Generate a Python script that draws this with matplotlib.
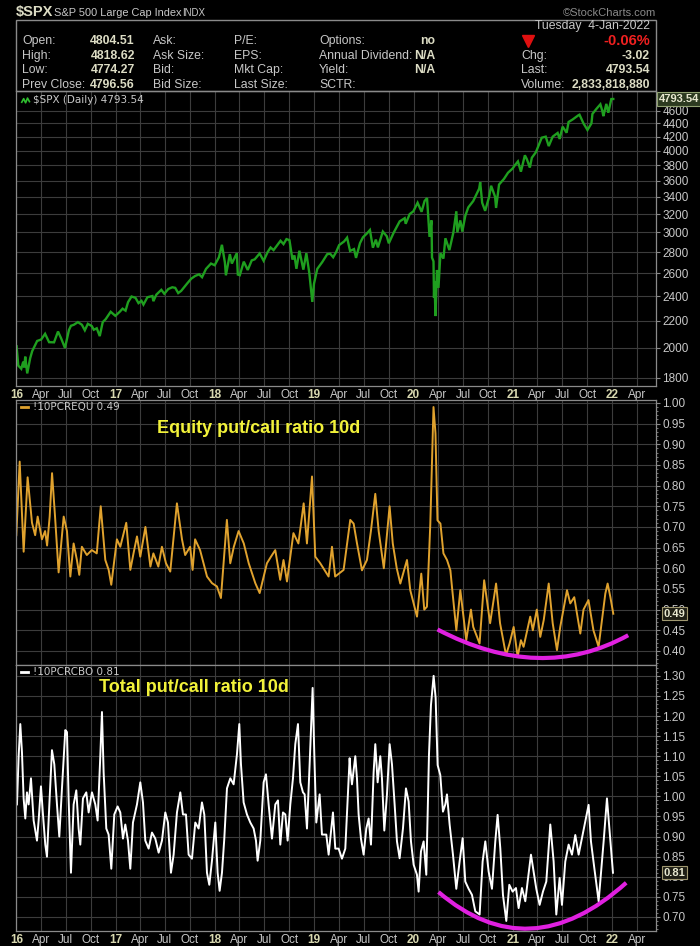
import matplotlib
matplotlib.use('Agg')
import matplotlib.pyplot as plt
import numpy as np
from datetime import date
from matplotlib.path import Path
from matplotlib.patches import PathPatch, Rectangle
from matplotlib.ticker import FixedLocator, NullLocator, FixedFormatter

plt.rcParams['font.family'] = ['Liberation Sans', 'DejaVu Sans']

# ---------------- data (decimal year, value) ----------------
spx_t = [2016.003, 2016.02, 2016.05, 2016.07, 2016.08, 2016.09, 2016.11, 2016.14, 2016.16, 2016.19,
         2016.21, 2016.25, 2016.29, 2016.33, 2016.38, 2016.42, 2016.45, 2016.49, 2016.53, 2016.55,
         2016.58, 2016.62, 2016.66, 2016.69, 2016.72, 2016.76, 2016.78, 2016.81, 2016.84, 2016.87,
         2016.90, 2016.95, 2016.997, 2017.04, 2017.07, 2017.10, 2017.125, 2017.16, 2017.20, 2017.23,
         2017.26, 2017.28, 2017.32, 2017.37, 2017.38, 2017.41, 2017.46, 2017.49, 2017.53, 2017.57,
         2017.60, 2017.63, 2017.66, 2017.72, 2017.76, 2017.80, 2017.84, 2017.87, 2017.91, 2017.96,
         2017.997, 2018.04, 2018.07, 2018.10, 2018.11, 2018.15, 2018.17, 2018.22, 2018.23, 2018.25,
         2018.29, 2018.33, 2018.37, 2018.40, 2018.45, 2018.49, 2018.53, 2018.56, 2018.59, 2018.66,
         2018.69, 2018.72, 2018.75, 2018.78, 2018.80, 2018.82, 2018.85, 2018.89, 2018.92, 2018.95,
         2018.98, 2018.997, 2019.03, 2019.08, 2019.13, 2019.16, 2019.19, 2019.22, 2019.25, 2019.30,
         2019.33, 2019.36, 2019.40, 2019.42, 2019.46, 2019.49, 2019.53, 2019.56, 2019.59, 2019.62,
         2019.64, 2019.69, 2019.73, 2019.75, 2019.80, 2019.82, 2019.86, 2019.91, 2019.92, 2019.96,
         2019.997, 2020.04, 2020.08, 2020.11, 2020.135, 2020.16, 2020.18, 2020.185, 2020.20, 2020.205,
         2020.21, 2020.22, 2020.235, 2020.25, 2020.27, 2020.30, 2020.32, 2020.36, 2020.40, 2020.43,
         2020.44, 2020.47, 2020.49, 2020.52, 2020.55, 2020.60, 2020.66, 2020.67, 2020.69, 2020.72,
         2020.76, 2020.78, 2020.82, 2020.83, 2020.86, 2020.91, 2020.95, 2020.997, 2021.02, 2021.05,
         2021.08, 2021.12, 2021.14, 2021.17, 2021.19, 2021.23, 2021.29, 2021.33, 2021.36, 2021.40,
         2021.45, 2021.47, 2021.50, 2021.54, 2021.56, 2021.60, 2021.66, 2021.67, 2021.71, 2021.75,
         2021.79, 2021.80, 2021.84, 2021.88, 2021.90, 2021.91, 2021.94, 2021.96, 2021.99, 2022.01]
spx_v = [2012, 1880, 1859, 1906, 1868, 1940, 1829, 1930, 1978, 2020,
         2050, 2060, 2102, 2041, 2040, 2119, 2071, 2000, 2130, 2162,
         2170, 2190, 2170, 2128, 2177, 2160, 2132, 2143, 2085, 2190,
         2213, 2271, 2239, 2270, 2296, 2280, 2349, 2396, 2385, 2341,
         2360, 2329, 2390, 2400, 2357, 2412, 2453, 2419, 2460, 2475,
         2470, 2425, 2444, 2508, 2550, 2575, 2590, 2564, 2640, 2690,
         2674, 2750, 2873, 2700, 2581, 2780, 2690, 2790, 2588, 2582,
         2708, 2630, 2720, 2730, 2787, 2716, 2800, 2846, 2820, 2914,
         2880, 2931, 2920, 2728, 2768, 2641, 2814, 2633, 2790, 2600,
         2351, 2507, 2640, 2704, 2780, 2784, 2750, 2801, 2870, 2907,
         2946, 2812, 2830, 2744, 2890, 2950, 2990, 3026, 2844, 2926,
         2847, 3010, 2960, 2888, 3000, 3039, 3120, 3154, 3093, 3200,
         3231, 3330, 3226, 3350, 3386, 2954, 3130, 2747, 2711, 2386,
         2530, 2237, 2630, 2470, 2790, 2737, 2940, 2820, 3000, 3232,
         3002, 3130, 3009, 3180, 3276, 3350, 3500, 3580, 3330, 3237,
         3400, 3535, 3400, 3270, 3550, 3622, 3700, 3756, 3800, 3850,
         3714, 3934, 3880, 3768, 3900, 3975, 4185, 4200, 4063, 4200,
         4255, 4166, 4350, 4258, 4422, 4460, 4529, 4537, 4400, 4300,
         4400, 4549, 4630, 4705, 4595, 4513, 4712, 4568, 4793, 4793.54]

equ_t = [2016.00, 2016.034, 2016.074, 2016.114, 2016.158, 2016.19, 2016.215, 2016.258, 2016.29, 2016.31,
         2016.336, 2016.36, 2016.39, 2016.426, 2016.477, 2016.51, 2016.544, 2016.577, 2016.61, 2016.634,
         2016.66, 2016.71, 2016.76, 2016.81, 2016.85, 2016.896, 2016.93, 2016.956, 2017.013, 2017.047,
         2017.107, 2017.148, 2017.18, 2017.215, 2017.248, 2017.30, 2017.35, 2017.38, 2017.43, 2017.466,
         2017.507, 2017.55, 2017.617, 2017.668, 2017.70, 2017.75, 2017.775, 2017.80, 2017.85, 2017.92,
         2017.97, 2018.02, 2018.06, 2018.12, 2018.154, 2018.19, 2018.238, 2018.29, 2018.34, 2018.406,
         2018.45, 2018.523, 2018.564, 2018.607, 2018.657, 2018.69, 2018.725, 2018.79, 2018.84, 2018.893,
         2018.926, 2018.977, 2019.01, 2019.06, 2019.144, 2019.178, 2019.21, 2019.295, 2019.362, 2019.396,
         2019.43, 2019.48, 2019.53, 2019.57, 2019.614, 2019.648, 2019.70, 2019.758, 2019.79, 2019.83,
         2019.866, 2019.933, 2019.966, 2020.0, 2020.034, 2020.077, 2020.107, 2020.134, 2020.168, 2020.20,
         2020.22, 2020.24, 2020.27, 2020.30, 2020.336, 2020.37, 2020.386, 2020.43, 2020.47, 2020.53,
         2020.577, 2020.60, 2020.664, 2020.71, 2020.77, 2020.83, 2020.87, 2020.93, 2020.966, 2021.007,
         2021.047, 2021.08, 2021.107, 2021.174, 2021.20, 2021.24, 2021.275, 2021.31, 2021.36, 2021.40,
         2021.443, 2021.476, 2021.544, 2021.577, 2021.617, 2021.678, 2021.71, 2021.76, 2021.81, 2021.862,
         2021.93, 2021.953, 2021.98, 2022.01]
equ_v = [0.68, 0.858, 0.64, 0.82, 0.71, 0.68, 0.725, 0.67, 0.69, 0.655,
         0.725, 0.83, 0.725, 0.59, 0.725, 0.69, 0.58, 0.66, 0.62, 0.584,
         0.652, 0.632, 0.644, 0.636, 0.75, 0.62, 0.596, 0.56, 0.67, 0.652,
         0.71, 0.596, 0.636, 0.677, 0.628, 0.70, 0.604, 0.636, 0.604, 0.652,
         0.612, 0.592, 0.757, 0.67, 0.632, 0.652, 0.596, 0.67, 0.644, 0.58,
         0.564, 0.556, 0.528, 0.717, 0.612, 0.652, 0.69, 0.66, 0.612, 0.564,
         0.54, 0.612, 0.628, 0.644, 0.572, 0.62, 0.568, 0.685, 0.66, 0.757,
         0.66, 0.822, 0.628, 0.612, 0.58, 0.652, 0.58, 0.596, 0.717, 0.708,
         0.66, 0.595, 0.62, 0.69, 0.78, 0.69, 0.60, 0.75, 0.66, 0.60,
         0.563, 0.62, 0.547, 0.515, 0.483, 0.587, 0.50, 0.507, 0.708, 0.99,
         0.926, 0.716, 0.708, 0.636, 0.62, 0.595, 0.555, 0.45, 0.547, 0.426,
         0.50, 0.458, 0.418, 0.571, 0.467, 0.563, 0.467, 0.39, 0.418, 0.458,
         0.386, 0.426, 0.41, 0.483, 0.45, 0.50, 0.434, 0.475, 0.563, 0.467,
         0.402, 0.458, 0.547, 0.515, 0.53, 0.442, 0.50, 0.523, 0.45, 0.41,
         0.539, 0.563, 0.531, 0.49]

tot_t = [2016.0067, 2016.0235, 2016.0403, 2016.0570, 2016.0738, 2016.0906, 2016.1074, 2016.1242, 2016.1477, 2016.1745,
         2016.2081, 2016.2248, 2016.2483, 2016.2685, 2016.2919, 2016.3087, 2016.3356, 2016.3591, 2016.3826, 2016.4094,
         2016.4329, 2016.4597, 2016.4933, 2016.5101, 2016.5268, 2016.5503, 2016.5772, 2016.6040, 2016.6275, 2016.6443,
         2016.6711, 2016.7047, 2016.7282, 2016.7617, 2016.7953, 2016.8188, 2016.8456, 2016.8624, 2016.8792, 2016.9060,
         2016.9295, 2016.9564, 2016.9866, 2017.0201, 2017.0470, 2017.0738, 2017.0973, 2017.1242, 2017.1477, 2017.1745,
         2017.2148, 2017.2483, 2017.2752, 2017.2987, 2017.3322, 2017.3658, 2017.3993, 2017.4329, 2017.4664, 2017.5000,
         2017.5268, 2017.5570, 2017.5839, 2017.6174, 2017.6510, 2017.6779, 2017.7080, 2017.7349, 2017.7685, 2017.8020,
         2017.8356, 2017.8691, 2017.8926, 2017.9195, 2017.9430, 2017.9698, 2018.0034, 2018.0268, 2018.0470, 2018.0705,
         2018.0940, 2018.1208, 2018.1544, 2018.1879, 2018.2215, 2018.2450, 2018.2617, 2018.2886, 2018.3221, 2018.3557,
         2018.3893, 2018.4128, 2018.4295, 2018.4564, 2018.4899, 2018.5134, 2018.5403, 2018.5738, 2018.6074, 2018.6342,
         2018.6577, 2018.6846, 2018.7081, 2018.7315, 2018.7584, 2018.7852, 2018.8087, 2018.8356, 2018.8591, 2018.8859,
         2018.9027, 2018.9262, 2018.9530, 2018.9832, 2019.0000, 2019.0201, 2019.0537, 2019.0772, 2019.1208, 2019.1443,
         2019.1879, 2019.2114, 2019.2450, 2019.2785, 2019.3121, 2019.3557,
         2019.3624, 2019.3792, 2019.4128, 2019.4295, 2019.4463, 2019.4698, 2019.4966, 2019.5235, 2019.5470, 2019.5705,
         2019.5973, 2019.6141, 2019.6376, 2019.6644, 2019.6812, 2019.7047, 2019.7315, 2019.7584, 2019.7819, 2019.8087,
         2019.8322, 2019.8591, 2019.8926, 2019.9228, 2019.9497, 2019.9732, 2020.0000, 2020.0336, 2020.0503, 2020.0738,
         2020.1007, 2020.1275, 2020.1544, 2020.1745, 2020.2013, 2020.2215, 2020.2416, 2020.2685, 2020.2953, 2020.3188,
         2020.3356, 2020.3624, 2020.3960, 2020.4295, 2020.4631, 2020.4933, 2020.5201, 2020.5537, 2020.5872, 2020.6208,
         2020.6644, 2020.6946, 2020.7215, 2020.7550, 2020.7886, 2020.8221, 2020.8456, 2020.8725, 2020.8993, 2020.9329,
         2020.9631, 2020.9966, 2021.0302, 2021.0570, 2021.0906, 2021.1242, 2021.1477, 2021.1812, 2021.2081, 2021.2349,
         2021.2685, 2021.3020, 2021.3356, 2021.3758, 2021.4094, 2021.4362, 2021.4698, 2021.4933, 2021.5268, 2021.5604,
         2021.5940, 2021.6275, 2021.6611, 2021.6946, 2021.7282, 2021.7617, 2021.7852, 2021.8188, 2021.8624, 2021.9128,
         2021.9463, 2021.9732, 2022.0067]
tot_v = [0.98, 1.10, 1.18, 1.11, 0.995, 0.945, 1.01, 0.98, 1.045, 0.94,
         0.89, 0.94, 1.025, 0.955, 0.88, 0.85, 0.995, 1.115, 1.08, 0.98,
         0.90, 1.02, 1.165, 1.16, 0.995, 0.81, 0.98, 1.015, 0.92, 0.88,
         0.995, 1.01, 0.96, 1.01, 0.98, 0.94, 1.10, 1.21, 1.06, 0.92,
         0.905, 0.82, 0.955, 0.975, 0.96, 0.895, 0.93, 0.89, 0.82, 0.935,
         0.98, 1.035, 0.985, 0.89, 0.87, 0.91, 0.895, 0.86, 0.89, 0.96,
         0.935, 0.81, 0.855, 0.96, 1.01, 0.955, 0.955, 0.855, 0.845, 0.935,
         0.92, 0.985, 0.955, 0.81, 0.78, 0.84, 0.935, 0.81, 0.765, 0.81,
         0.895, 1.02, 1.045, 1.03, 1.105, 1.18, 1.08, 0.985, 0.955, 0.935,
         0.92, 0.89, 0.84, 0.89, 1.035, 1.055, 0.98, 0.895, 0.98, 0.99,
         0.88, 0.96, 0.955, 0.89, 0.98, 1.045, 1.13, 1.18, 1.035, 1.01,
         1.005, 0.92, 1.08, 1.27, 1.105, 0.935, 1.005, 0.905, 0.905, 0.855,
         0.96, 0.87, 0.87, 0.845, 0.87, 1.095,
         1.07, 1.03, 1.10, 1.045, 0.955, 0.895, 0.855, 0.92, 0.945, 0.88,
         1.06, 1.13, 1.035, 1.10, 1.045, 0.915, 1.005, 1.13, 1.08, 0.98,
         0.888, 0.846, 0.92, 1.02, 0.987, 0.888, 0.83, 0.805, 0.763, 0.863,
         0.888, 0.805, 1.103, 1.227, 1.30, 1.245, 1.078, 1.053, 0.962, 0.98,
         1.005, 0.93, 0.855, 0.77, 0.838, 0.896, 0.788, 0.77, 0.755, 0.714,
         0.706, 0.838, 0.888, 0.813, 0.77, 0.888, 0.954, 0.871, 0.755, 0.69,
         0.78, 0.763, 0.772, 0.722, 0.772, 0.739, 0.788, 0.855, 0.813, 0.77,
         0.73, 0.763, 0.788, 0.93, 0.838, 0.706, 0.797, 0.73, 0.838, 0.88,
         0.855, 0.904, 0.855, 0.896, 0.937, 0.979, 0.888, 0.822, 0.739, 0.888,
         0.995, 0.913, 0.81]

spx_ticks = [1800, 2000, 2200, 2400, 2600, 2800, 3000, 3200, 3400, 3600, 3800, 4000, 4200, 4400, 4600]
equ_ticks = [0.40, 0.45, 0.50, 0.55, 0.60, 0.65, 0.70, 0.75, 0.80, 0.85, 0.90, 0.95, 1.00]
tot_ticks = [0.70, 0.75, 0.80, 0.85, 0.90, 0.95, 1.00, 1.05, 1.10, 1.15, 1.20, 1.25, 1.30]
month_names = {1: None, 4: 'Apr', 7: 'Jul', 10: 'Oct'}

# annotation arcs: (start, lowest, end) points
equ_arc = [(2020.24, 0.452), (2021.24, 0.383), (2022.16, 0.438)]
tot_arc = [(2020.25, 0.762), (2021.18, 0.671), (2022.14, 0.785)]

# ---------------- styling ----------------
W, H = 700, 946
BG = 'black'
GRID = '#3c3c3c'
SPINE = '#8a8a8a'
TXT = '#c8c8c8'
VAL = '#dcdcc4'
YEARC = '#d8d8b0'
FS = 8.8

fig = plt.figure(figsize=(W / 100, H / 100), dpi=100, facecolor=BG)


def pax(x0, y0, x1, y1):
    return fig.add_axes([x0 / W, 1 - y1 / H, (x1 - x0) / W, (y1 - y0) / H], facecolor=BG)


def dec(y, m, d=1):
    s = date(y, 1, 1)
    return y + (date(y, m, d) - s).days / (date(y + 1, 1, 1) - s).days


qticks, qlabels = [], []
for y in range(2016, 2023):
    for m in (1, 4, 7, 10):
        if y == 2022 and m > 4:
            continue
        qticks.append(dec(y, m))
        qlabels.append(f"{y % 100:02d}" if m == 1 else month_names[m])

XL = (2015.997, 2022.44)


def style(ax, yt, fmt, show_x):
    ax.set_xlim(*XL)
    for s in ax.spines.values():
        s.set_color(SPINE)
        s.set_linewidth(0.9)
    ax.yaxis.tick_right()
    ax.yaxis.set_major_locator(FixedLocator(yt))
    ax.yaxis.set_major_formatter(FixedFormatter([fmt(v) for v in yt]))
    ax.tick_params(axis='y', colors=SPINE, labelcolor=TXT, labelsize=8.5, length=3, width=0.8, pad=1.5,
                   direction='out')
    ax.xaxis.set_major_locator(FixedLocator(qticks))
    ax.tick_params(axis='x', length=0, pad=2, labelsize=8.5, colors=TXT)
    if show_x:
        ax.set_xticklabels(qlabels)
        for lab, txt in zip(ax.get_xticklabels(), qlabels):
            if txt[0].isdigit():
                lab.set_fontweight('bold')
                lab.set_color(YEARC)
    else:
        ax.set_xticklabels([])
    ax.grid(True, color=GRID, linewidth=0.8)
    ax.set_axisbelow(True)


# panel 1: SPX
ax1 = pax(16, 91, 656, 386)
ax1.set_yscale('log')
ax1.set_ylim(1750, 4930)
ax1.yaxis.set_minor_locator(NullLocator())
ax1.plot(spx_t, spx_v, color='#1f9f1f', lw=1.7, solid_joinstyle='miter')
style(ax1, spx_ticks, lambda v: f"{v:d}", True)
ax1.yaxis.set_minor_formatter(plt.NullFormatter())
ax1.text(0.026, 0.968, '$SPX (Daily) 4793.54', transform=ax1.transAxes, color=TXT,
         fontsize=7.5, family='DejaVu Sans', va='center', ha='left')
ax1.plot([0.009, 0.012, 0.015, 0.018, 0.021], [0.962, 0.974, 0.960, 0.976, 0.964],
         transform=ax1.transAxes, color='#2fbf2f', lw=1.2)
ax1.text(1.004, spx_v[-1], '4793.54', transform=ax1.get_yaxis_transform(), color='#e8e8d0',
         fontsize=8, fontweight='bold', va='center', ha='left', clip_on=False, zorder=10,
         bbox=dict(boxstyle='square,pad=0.15', fc='#2c3a20', ec='#8fa070', lw=0.8))

# panel 2: equity put/call
ax2 = pax(16, 400, 656, 665)
ax2.set_ylim(0.366, 1.007)
ax2.plot(equ_t, equ_v, color='#e0a22e', lw=1.4)
style(ax2, equ_ticks, lambda v: f"{v:.2f}", False)
ax2.yaxis.set_minor_locator(FixedLocator(np.arange(0.37, 1.005, 0.01)))
ax2.tick_params(axis='y', which='minor', length=1.5, colors=SPINE)
ax2.text(0.026, 0.974, '!10PCREQU 0.49', transform=ax2.transAxes, color=TXT,
         fontsize=7.5, family='DejaVu Sans', va='center', ha='left')
ax2.plot([0.008, 0.019], [0.974, 0.974], transform=ax2.transAxes, color='#e0a22e', lw=2)
ax2.text(0.220, 0.893, 'Equity put/call ratio 10d', transform=ax2.transAxes, color='#f2f23a',
         fontsize=13, fontweight='bold', va='center', ha='left')
ax2.text(1.012, equ_v[-1], '0.49', transform=ax2.get_yaxis_transform(), color='#e8e8d0',
         fontsize=8, fontweight='bold', va='center', ha='left', clip_on=False, zorder=10,
         bbox=dict(boxstyle='square,pad=0.15', fc='#1e1e14', ec='#a09870', lw=0.8))

# panel 3: total put/call
ax3 = pax(16, 665, 656, 931)
ax3.set_ylim(0.665, 1.327)
ax3.plot(tot_t, tot_v, color='white', lw=1.4)
style(ax3, tot_ticks, lambda v: f"{v:.2f}", True)
ax3.yaxis.set_minor_locator(FixedLocator(np.arange(0.67, 1.325, 0.01)))
ax3.tick_params(axis='y', which='minor', length=1.5, colors=SPINE)
ax3.text(0.026, 0.975, '!10PCRCBO 0.81', transform=ax3.transAxes, color=TXT,
         fontsize=7.5, family='DejaVu Sans', va='center', ha='left')
ax3.plot([0.008, 0.019], [0.975, 0.975], transform=ax3.transAxes, color='white', lw=2)
ax3.text(0.130, 0.915, 'Total put/call ratio 10d', transform=ax3.transAxes, color='#f2f23a',
         fontsize=13, fontweight='bold', va='center', ha='left')
ax3.text(1.012, tot_v[-1], '0.81', transform=ax3.get_yaxis_transform(), color='#e8e8d0',
         fontsize=8, fontweight='bold', va='center', ha='left', clip_on=False, zorder=10,
         bbox=dict(boxstyle='square,pad=0.15', fc='#1e1e14', ec='#a09870', lw=0.8))


def arc(ax, pts):
    (x0, y0), (xm, ym), (x2, y2) = pts
    cx = 2 * xm - 0.5 * (x0 + x2)
    cy = 2 * ym - 0.5 * (y0 + y2)
    p = Path([(x0, y0), (cx, cy), (x2, y2)], [Path.MOVETO, Path.CURVE3, Path.CURVE3])
    ax.add_patch(PathPatch(p, fc='none', ec='#e020e0', lw=3, clip_on=False, zorder=5))


arc(ax2, equ_arc)
arc(ax3, tot_arc)

# ---------------- header ----------------
hax = fig.add_axes([0, 0, 1, 1])
hax.set_xlim(0, W)
hax.set_ylim(H, 0)
hax.axis('off')
hax.patch.set_alpha(0)

hax.text(16, 12, '$SPX', color=VAL, fontsize=10.5, fontweight='bold', va='center', ha='left')
hax.text(54, 12.5, 'S&P 500 Large Cap Index', color=TXT, fontsize=7.9, va='center', ha='left')
hax.text(182, 12.5, 'INDX', color=TXT, fontsize=7, va='center', ha='left')
hax.text(656, 12.5, '©StockCharts.com', color='#8a8a8a', fontsize=8, va='center', ha='right')
hax.add_patch(Rectangle((16, 20), 640, 71, fc='none', ec=SPINE, lw=1))
hax.text(650, 26, 'Tuesday  4-Jan-2022', color=TXT, fontsize=FS, va='center', ha='right')

rows = [41, 56, 70, 85]
col1 = ['Open:', 'High:', 'Low:', 'Prev Close:']
col1v = ['4804.51', '4818.62', '4774.27', '4796.56']
col2 = ['Ask:', 'Ask Size:', 'Bid:', 'Bid Size:']
col3 = ['P/E:', 'EPS:', 'Mkt Cap:', 'Last Size:']
col4 = ['Options:', 'Annual Dividend:', 'Yield:', 'SCTR:']
col4v = ['no', 'N/A', 'N/A', '']
for y, a, av, b, c, d, dv in zip(rows, col1, col1v, col2, col3, col4, col4v):
    hax.text(22, y, a, color=TXT, fontsize=FS, va='center', ha='left')
    hax.text(135, y, av, color=VAL, fontsize=FS, fontweight='bold', va='center', ha='right')
    hax.text(153, y, b, color=TXT, fontsize=FS, va='center', ha='left')
    hax.text(234, y, c, color=TXT, fontsize=FS, va='center', ha='left')
    hax.text(319, y, d, color=TXT, fontsize=FS, va='center', ha='left')
    hax.text(435, y, dv, color=VAL, fontsize=FS, fontweight='bold', va='center', ha='right')

hax.plot([528], [41], marker='v', color='#e01010', markersize=9, linestyle='none')
hax.text(650, 41, '-0.06%', color='#f02020', fontsize=10.5, fontweight='bold', va='center', ha='right')
hax.text(521, 56, 'Chg:', color=TXT, fontsize=FS, va='center', ha='left')
hax.text(650, 56, '-3.02', color=VAL, fontsize=FS, fontweight='bold', va='center', ha='right')
hax.text(521, 70, 'Last:', color=TXT, fontsize=FS, va='center', ha='left')
hax.text(650, 70, '4793.54', color=VAL, fontsize=FS, fontweight='bold', va='center', ha='right')
hax.text(521, 85, 'Volume:', color=TXT, fontsize=FS, va='center', ha='left')
hax.text(650, 85, '2,833,818,880', color=VAL, fontsize=FS, fontweight='bold', va='center', ha='right')

fig.savefig('out.png', dpi=100, facecolor=BG)
